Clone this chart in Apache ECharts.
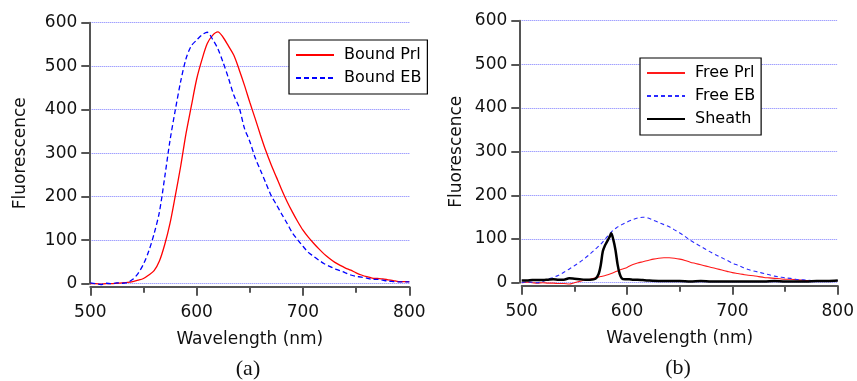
<!DOCTYPE html>
<html>
<head>
<meta charset="utf-8">
<script src="https://cdn.jsdelivr.net/npm/echarts@6/dist/echarts.min.js"></script>
<style>html,body{margin:0;padding:0;background:#fff;}#c{width:857px;height:381px;}</style>
</head>
<body>
<div id="c"></div>
<script>
// Shared wavelength grid (nm), step 5
const wavelengths = [500,505,510,515,520,525,530,535,540,545,550,555,560,565,570,575,580,585,590,595,600,605,610,615,620,625,630,635,640,645,650,655,660,665,670,675,680,685,690,695,700,705,710,715,720,725,730,735,740,745,750,755,760,765,770,775,780,785,790,795,800];
// Panel (a)
const boundPrl = [0,0,-1,0,0,1,2,3,5,8,12,20,30,52,90,139,203,270,345,408,470,515,552,571,579,566,546,525,492,456,417,380,342,306,274,245,216,189,165,143,123,107,93,80,68,58,49,42,36,31,25,20,16,13,12,11,9,7,5,5,5];
const boundEB = [2,0,-2,1,0,2,1,3,10,24,45,75,115,165,245,330,400,465,517,547,560,572,578,562,540,508,472,433,405,357,327,290,261,232,203,182,160,139,117,101,86,72,63,54,46,40,34,30,25,20,17,15,13,10,10,8,6,5,4,4,4];
// Panel (b)
const freePrl = [0,1,0,-1,0,-1,-1,-2,-2,-3,0,3,6,8,11,14,17,21,26,31,35,41,45,48,51,54,56,57,57,56,54,51,47,44,41,38,35,32,29,26,23,21,19,17,16,14,12,11,10,9,8,8,7,6,5,5,5,4,4,4,5];
const freeEB = [0,2,1,0,3,8,12,17,24,31,39,47,56,66,77,88,102,116,126,133,139,144,148,150,148,143,138,133,128,121,114,106,97,90,83,76,69,63,57,51,45,40,35,30,27,24,21,18,15,13,11,10,8,7,6,5,4,4,4,4,5];
const sheathWavelengths = [500,505,510,515,520,525,530,535,540,545,550,555,560,565,570,573,575,577,579,581,583,585,587,589,591,593,595,598,602,606,610,615,620,630,640,650,660,670,680,690,700,710,720,730,740,750,760,770,780,790,800];
const sheath = [5,5,6,6,6,7,8,7,7,10,9,8,7,7,9,20,40,72,85,94,103,113,98,75,42,20,10,8,8,7,7,6,5,4,4,4,3,4,3,3,3,3,3,3,4,3,3,3,4,4,5];
const xTickValues = [500,600,700,800];
const yTickValues = [0,100,200,300,400,500,600];
const panelLabels = ['(a)','(b)'];

const pair = (xs, ys) => xs.map((x, i) => [x, ys[i]]);
const FONT = 'DejaVu Sans';
const axisColor = '#555';

function xAxisCfg(gridIndex){
  return {
    gridIndex, type:'value', min:xTickValues[0], max:xTickValues[xTickValues.length-1], interval:100,
    offset:3,
    axisLine:{show:true, onZero:false, lineStyle:{color:axisColor, width:2}},
    axisTick:{show:true, length:9, lineStyle:{color:axisColor, width:2}},
    minorTick:{show:true, splitNumber:2, length:6, lineStyle:{color:axisColor, width:2}},
    splitLine:{show:false},
    axisLabel:{fontSize:17, fontFamily:FONT, color:'#111', margin:17},
    name:'Wavelength (nm)', nameLocation:'middle', nameGap:44,
    nameTextStyle:{fontSize:17, fontFamily:FONT, color:'#111'}
  };
}
function yAxisCfg(gridIndex, offset, nameGap){
  return {
    gridIndex, type:'value', min:yTickValues[0], max:yTickValues[yTickValues.length-1], interval:100,
    offset,
    axisLine:{show:true, lineStyle:{color:axisColor, width:2}},
    axisTick:{show:true, length:8, lineStyle:{color:axisColor, width:2}},
    splitLine:{show:true, lineStyle:{color:'#7a7aff', type:[1,1], width:1}},
    axisLabel:{fontSize:17, fontFamily:FONT, color:'#111', margin:12},
    name:'Fluorescence', nameLocation:'middle', nameGap,
    nameTextStyle:{fontSize:17, fontFamily:FONT, color:'#111'}
  };
}
function legendCfg(data, left, top){
  return {
    data, orient:'vertical', left, top,
    borderColor:'#000', borderWidth:1.2, backgroundColor:'#fff',
    padding:[7,6,8,6], itemWidth:38, itemHeight:16, itemGap:7,
    itemStyle:{opacity:0},
    textStyle:{fontSize:16, fontFamily:FONT, color:'#000', padding:[0,0,0,5]}
  };
}
const chart = echarts.init(document.getElementById('c'), null, {renderer:'canvas'});
chart.setOption({
  animation:false,
  backgroundColor:'#fff',
  grid:[
    {left:90.3, top:22.7, width:319, height:261},
    {left:521.7, top:20.7, width:316.7, height:262}
  ],
  xAxis:[xAxisCfg(0), xAxisCfg(1)],
  yAxis:[yAxisCfg(0, 1, 60), yAxisCfg(1, 2.4, 54)],
  legend:[legendCfg(['Bound Prl','Bound EB'], 289, 40), legendCfg(['Free Prl','Free EB','Sheath'], 640, 58)],
  series:[
    {name:'Bound Prl', type:'line', xAxisIndex:0, yAxisIndex:0, data:pair(wavelengths, boundPrl), symbol:'none', smooth:0.3, clip:false,
     lineStyle:{color:'#ff0000', width:1.3}, itemStyle:{color:'#ff0000'}},
    {name:'Bound EB', type:'line', xAxisIndex:0, yAxisIndex:0, data:pair(wavelengths, boundEB), symbol:'none', smooth:0.3, clip:false,
     lineStyle:{color:'#0000ff', width:1.3, type:[5,3]}, itemStyle:{color:'#0000ff'}},
    {name:'Free Prl', type:'line', xAxisIndex:1, yAxisIndex:1, data:pair(wavelengths, freePrl), symbol:'none', smooth:0.3, clip:false,
     lineStyle:{color:'#ff1a1a', width:1.1}, itemStyle:{color:'#ff1a1a'}},
    {name:'Free EB', type:'line', xAxisIndex:1, yAxisIndex:1, data:pair(wavelengths, freeEB), symbol:'none', smooth:0.3, clip:false,
     lineStyle:{color:'#2a2aff', width:1.1, type:[4,3]}, itemStyle:{color:'#2a2aff'}},
    {name:'Sheath', type:'line', xAxisIndex:1, yAxisIndex:1, data:pair(sheathWavelengths, sheath), symbol:'none', smooth:0.3, clip:false,
     lineStyle:{color:'#000', width:2.5}, itemStyle:{color:'#000'}}
  ],
  graphic:[
    {type:'text', x:248, y:369, style:{text:panelLabels[0], font:'22px "Liberation Serif"', fill:'#111', align:'center', verticalAlign:'middle'}},
    {type:'text', x:678, y:368, style:{text:panelLabels[1], font:'22px "Liberation Serif"', fill:'#111', align:'center', verticalAlign:'middle'}}
  ]
});
</script>
</body>
</html>
